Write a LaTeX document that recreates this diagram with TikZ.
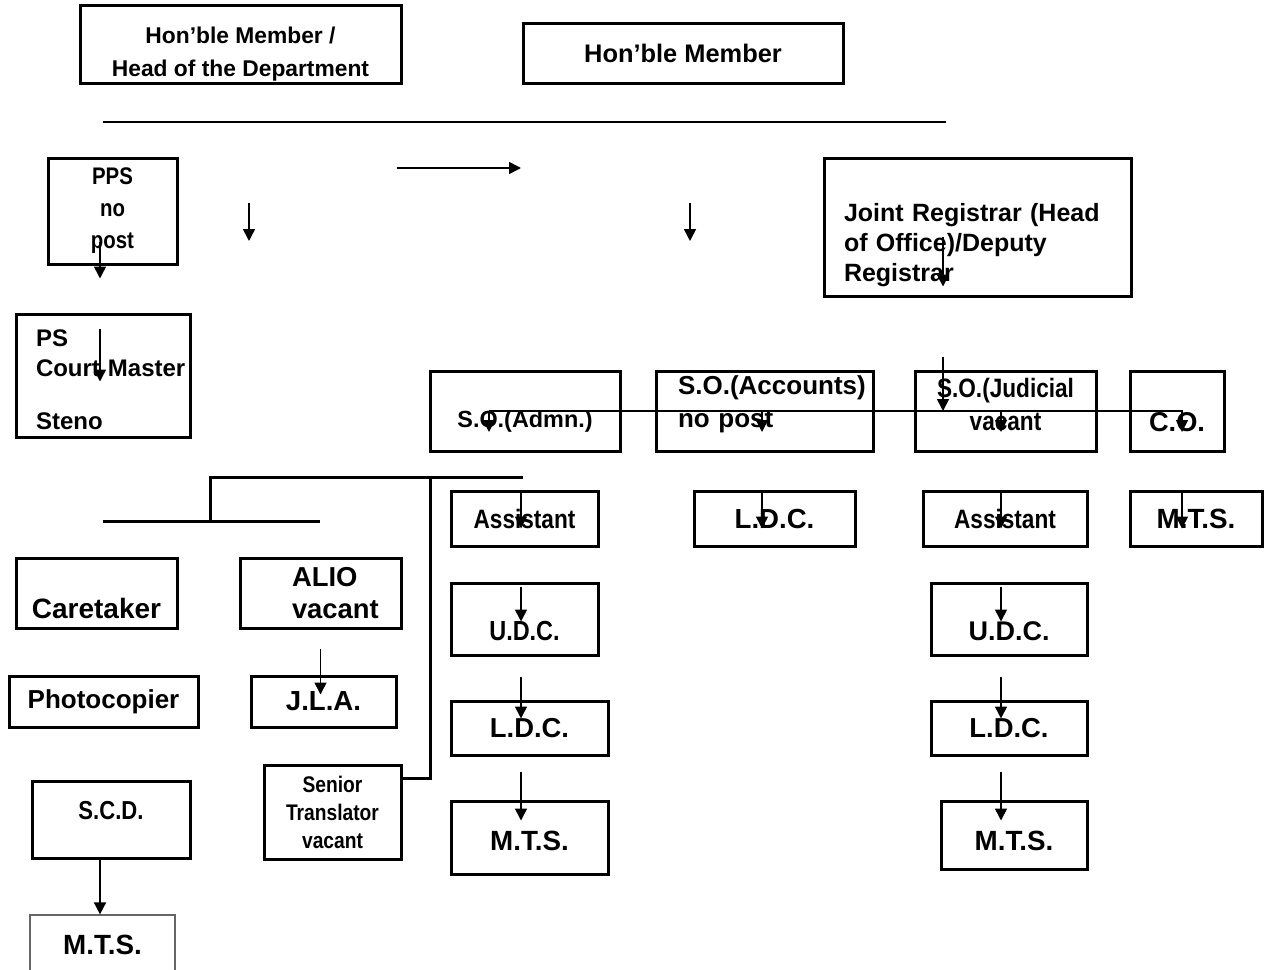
\documentclass[tikz,border=0pt]{standalone}
\usepackage{fontspec}
\setmainfont{Liberation Sans}
\newfontfamily\narrowfont[FakeStretch=0.85]{Liberation Sans}
\usetikzlibrary{arrows.meta,calc}
\newcommand{\regtext}[2]{\fontsize{#1}{#2}\selectfont\bfseries}
\newcommand{\narrowtext}[2]{\narrowfont\fontsize{#1}{#2}\selectfont\bfseries}
\newcommand{\padtop}[1]{\rule{0pt}{#1}}
\newcommand{\padbot}[1]{\rule[-#1]{0pt}{#1}}

\begin{document}
\begin{tikzpicture}[x=0.5pt, y=-0.5pt,
  box/.style={draw, line width=1.5pt, inner sep=0pt, align=center},
  leftbox/.style={box, align=left, text width=#1},
  arrow/.style={-{Triangle[length=6pt,width=6pt]}, line width=0.8pt},
  joinline/.style={line width=1.5pt},
  topline/.style={line width=1pt}
]
  \useasboundingbox (0,0) rectangle (1279,969);

  \node[box, minimum width=160.5pt, minimum height=39pt, font=\regtext{11.4}{16.5}] (hod) at (240.5,44) {\padtop{18.8pt}Hon’ble Member /\\Head of the Department};
  \node[box, minimum width=160pt, minimum height=30pt, font=\regtext{12.7}{15}] (hm) at (683,53) {Hon’ble Member};
  \node[box, minimum width=64.5pt, minimum height=53pt, font=\narrowtext{12}{16}] (pps) at (112.5,211) {PPS\\no\\post};
  \node[leftbox=133.5pt, minimum width=153.5pt, minimum height=69pt, font=\regtext{12.5}{15}] (jr) at (977.5,227) {\padtop{27.6pt}Joint Registrar (Head\\of Office)/Deputy\\Registrar};
  \node[leftbox=67pt, minimum width=87pt, minimum height=61.5pt, font=\regtext{12}{15}] (ps) at (103,375.5) {\padtop{12.6pt}PS\\\mbox{Court Master}\\[11.5pt]Steno};

  \node[box, minimum width=95pt, minimum height=40pt, font=\regtext{11.7}{14}] (soa) at (525,411) {\padtop{18.7pt}S.O.(Admn.)};
  \node[leftbox=86.5pt, minimum width=108.5pt, minimum height=40pt, font=\regtext{13}{16.5}] (soacc) at (764.5,411) {\mbox{S.O.(Accounts)}\\no post\padbot{9.2pt}};
  \node[box, minimum width=90.5pt, minimum height=40pt, font=\narrowtext{13.3}{16.5}] (soj) at (1005.5,411) {S.O.(Judicial\\vacant\padbot{6.5pt}};
  \node[box, minimum width=47pt, minimum height=40pt, font=\regtext{13.6}{16}] (co) at (1177,411) {\padtop{20.2pt}C.O.};

  \node[box, minimum width=73.5pt, minimum height=27.5pt, font=\narrowtext{13.3}{16}] (asst1) at (524.5,518.5) {Assistant};
  \node[box, minimum width=80.5pt, minimum height=27.5pt, font=\regtext{13.8}{16}] (ldcacc) at (774.5,518.5) {L.D.C.};
  \node[box, minimum width=82pt, minimum height=27.5pt, font=\narrowtext{13.3}{16}] (asst2) at (1005,518.5) {Assistant};
  \node[box, minimum width=66pt, minimum height=27.5pt, font=\regtext{13.9}{16}] (mtsco) at (1196,518.5) {M.T.S.};

  \node[box, minimum width=73.5pt, minimum height=36pt, font=\narrowtext{13.8}{16}] (udc1) at (524.5,619) {\padtop{22pt}U.D.C.};
  \node[box, minimum width=78pt, minimum height=36pt, font=\regtext{13.5}{16}] (udc2) at (1009,619) {\padtop{21.8pt}U.D.C.};
  \node[box, minimum width=78.5pt, minimum height=27pt, font=\regtext{13.7}{16}] (ldc1) at (529.5,728) {L.D.C.};
  \node[box, minimum width=78pt, minimum height=27pt, font=\regtext{13.7}{16}] (ldc2) at (1009,728) {L.D.C.};
  \node[box, minimum width=78.5pt, minimum height=36.5pt, font=\regtext{13.9}{16}] (mts1) at (529.5,837.5) {\padtop{13.6pt}M.T.S.};
  \node[box, minimum width=73pt, minimum height=34pt, font=\regtext{13.9}{16}] (mts2) at (1014,835) {\padtop{16.1pt}M.T.S.};

  \node[box, minimum width=80.5pt, minimum height=35pt, font=\regtext{14}{16}] (care) at (96.5,593) {\padtop{25.2pt}Caretaker};
  \node[leftbox=28.5pt, minimum width=80.5pt, minimum height=35pt, font=\regtext{13.7}{16}] (alio) at (320.5,593) {\mbox{ALIO}\\\mbox{vacant}};
  \node[box, minimum width=72.5pt, minimum height=25.5pt, font=\regtext{13.8}{16}] (jla) at (323.5,701.5) {J.L.A.};
  \node[box, minimum width=94.5pt, minimum height=25.5pt, font=\regtext{13}{16}] (photo) at (103.5,701.5) {Photocopier};
  \node[box, minimum width=68.5pt, minimum height=47pt, font=\narrowtext{11.3}{14}] (st) at (332.5,812) {Senior\\Translator\\vacant};
  \node[box, minimum width=79pt, minimum height=38.5pt, font=\narrowtext{13}{16}] (scd) at (111,819.5) {S.C.D.\padbot{9.5pt}};
  \node[box, line width=0.6pt, draw=black!60, minimum width=72.5pt, minimum height=30pt, font=\regtext{13.9}{16}] (mts3) at (102.5,945) {M.T.S.};

  \coordinate (ruleL) at (103,122);
  \coordinate (ruleR) at (946,122);
  \coordinate (free1) at (397,168);
  \coordinate (free2) at (249,203);
  \coordinate (free3) at (690,203);
  \coordinate (colP) at (100,0);
  \coordinate (colA) at (521,0);
  \coordinate (colC) at (762,0);
  \coordinate (colB) at (1001,0);
  \coordinate (colD) at (1182,0);
  \coordinate (colJ) at (943,0);
  \coordinate (colS) at (430,0);
  \coordinate (barL) at (489,411);
  \coordinate (barR) at (1182,411);
  \coordinate (hubL) at (210,477);
  \coordinate (hubR) at (523,477);
  \coordinate (forkL) at (103,521);
  \coordinate (forkR) at (320,521);

  \draw[topline] (ruleL) -- (ruleR);
  \draw[arrow] (free1) -- ++(124,0);
  \draw[arrow] (free2) -- ++(0,38);
  \draw[arrow] (free3) -- ++(0,38);
  \draw[arrow] ($(colP |- pps.south)+(0,-24)$) -- ++(0,37);
  \draw[arrow] ($(colP |- ps.north)+(0,16)$) -- ++(0,53);
  \draw[arrow] ($(colJ |- jr.south)+(0,-61)$) -- ++(0,50);
  \draw[arrow] ($(colJ |- soj.north)+(0,-13)$) -- (colJ |- barL);
  \draw[arrow] (barL) -- ++(0,21);
  \draw[arrow] (barL) -- (barR) -- ++(0,21);
  \draw[arrow] (colC |- barL) -- ++(0,21);
  \draw[arrow] (colB |- barL) -- ++(0,21);

  \draw[arrow] (colA |- asst1.north) -- ++(0,39);
  \draw[arrow] (colC |- ldcacc.north) -- ++(0,39);
  \draw[arrow] (colB |- asst2.north) -- ++(0,39);
  \draw[arrow] (colD |- mtsco.north) -- ++(0,39);
  \draw[arrow] ($(colA |- udc1.north)+(0,5)$) -- ++(0,35);
  \draw[arrow] ($(colB |- udc2.north)+(0,5)$) -- ++(0,35);
  \draw[arrow] ($(colA |- ldc1.north)+(0,-23)$) -- ++(0,42);
  \draw[arrow] ($(colB |- ldc2.north)+(0,-23)$) -- ++(0,42);
  \draw[arrow] ($(colA |- mts1.north)+(0,-28)$) -- ++(0,49);
  \draw[arrow] ($(colB |- mts2.north)+(0,-28)$) -- ++(0,49);
  \draw[arrow] ($(alio.south)+(0,19)$) -- ++(0,46);
  \draw[arrow] (colP |- scd.south) -- (colP |- mts3.north);

  \draw[joinline] (hubR) -- (hubL) -- (hubL |- forkL);
  \draw[joinline] (forkL) -- (forkR);
  \draw[joinline] (colS |- hubL) -- ($(colS |- st.north)+(0,15)$) -- ($(st.north east)+(0,15)$);
\end{tikzpicture}
\end{document}
